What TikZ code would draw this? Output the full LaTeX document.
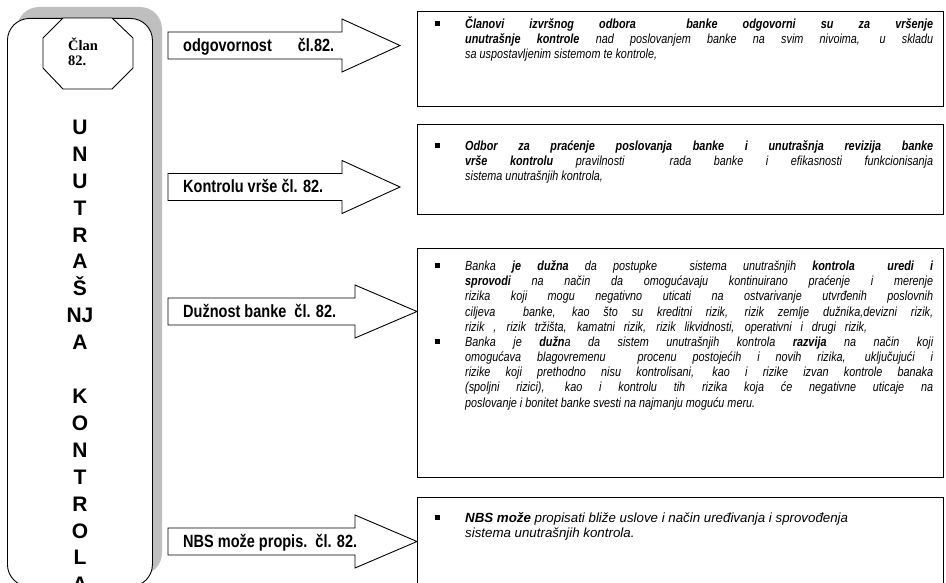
\documentclass[tikz,border=0pt]{standalone}
\usepackage{fontspec}
\setmainfont{Liberation Sans}
\newfontfamily\narrowfont[FakeStretch=0.82]{Liberation Sans}
\newfontfamily\serifbold{Liberation Serif}
\tolerance=10000
\hbadness=10000

% bullet item with hanging indent (line spacing set here, inside the text box)
\newcommand\bul{\par\baselineskip=15.2pt\noindent\hangindent=30pt\hangafter=1%
  \makebox[30pt][l]{\rule{0pt}{12pt}\rule[2.5pt]{4.5pt}{4.5pt}}\ignorespaces}

\tikzset{
  txtbox/.style={draw=black, line width=0.9pt, fill=white, anchor=north west, inner sep=0pt},
  blockarrow/.style={draw=black, line width=0.9pt, fill=white, line join=miter},
  arrowlabel/.style={anchor=base west, inner sep=0pt,
    font=\narrowfont\bfseries\fontsize{17.7}{20}\selectfont},
  bodytext/.style={anchor=north west, inner sep=0pt, text width=498pt, align=justify,
    font=\narrowfont\itshape\fontsize{13.2}{15.2}\selectfont},
  widetext/.style={bodytext, font=\itshape\fontsize{13.3}{15.2}\selectfont},
  letter/.style={anchor=base, inner sep=0pt, font=\bfseries\fontsize{21}{25}\selectfont},
}

% block arrow: label node name, centre y, head start x, tip x, label
\newcommand\blockarrow[5]{%
  \draw[blockarrow] (168,#2-13.5) -- (#3,#2-13.5) -- (#3,#2-26.5) -- (#4,#2)
    -- (#3,#2+26.5) -- (#3,#2+13.5) -- (168,#2+13.5) -- cycle;
  \node[arrowlabel] (#1) at (183,#2+6) {#5};}

\begin{document}
\begin{tikzpicture}[x=1pt,y=-1pt]
\useasboundingbox (0,0) rectangle (946,583);

% left panel with its grey shadow
\fill[gray!50, rounded corners=22pt] (17,7) rectangle (162,575);
\node[draw, line width=0.9pt, fill=white, rounded corners=22pt, anchor=north west,
  inner sep=0pt, minimum width=145pt, minimum height=568pt] (panel) at (7,18) {};

% octagon with the article number
\draw[line width=0.9pt, fill=white] (63,18) -- (112,18) -- (133,38) -- (133,68)
  -- (112,89) -- (63,89) -- (43,68) -- (43,38) -- cycle;
\node[anchor=north west, inner sep=0pt, text width=50pt, align=left,
  font=\serifbold\bfseries\fontsize{14.5}{15}\selectfont] (clan) at (68,37)
  {\baselineskip=15pt\rule{0pt}{13pt}Član\\82.\par};

% vertical title
\foreach \ch [count=\i from 0] in {U,N,U,T,R,A,Š,NJ,A}
  \node[letter] (v\i) at (80,134.5+26.9*\i) {\ch};
\foreach \ch [count=\i from 10] in {K,O,N,T,R,O,L,A}
  \node[letter] (v\i) at (80,134.5+26.9*\i) {\ch};

% text boxes
\node[txtbox, minimum width=526pt, minimum height=95pt] (box1) at (417,11) {};
\node[txtbox, minimum width=526pt, minimum height=90pt] (box2) at (417,124) {};
\node[txtbox, minimum width=526pt, minimum height=229pt] (box3) at (417,248) {};
\node[txtbox, minimum width=526pt, minimum height=100pt] (box4) at (417,497) {};

% block arrows
\blockarrow{a1}{45.5}{342}{400}{odgovornost\hspace{26pt}čl.82.}
\blockarrow{a2}{187}{342}{400}{Kontrolu vrše čl. 82.}
\blockarrow{a3}{311.5}{355}{417}{Dužnost banke\ \ čl. 82.}
\blockarrow{a4}{541.5}{355}{417}{NBS može propis.\ \ čl. 82.}

% box contents
\node[bodytext] (t1) at (435,13) {%
\bul\textbf{Članovi izvršnog odbora\ \ banke odgovorni su za vršenje}\linebreak
\textbf{unutrašnje kontrole} nad poslovanjem banke na svim nivoima, u skladu\linebreak
sa uspostavljenim sistemom te kontrole,\par};

\node[bodytext] (t2) at (435,135) {%
\bul\textbf{Odbor za praćenje poslovanja banke i unutrašnja revizija banke}\linebreak
\textbf{vrše kontrolu} pravilnosti\ \ rada banke i efikasnosti funkcionisanja\linebreak
sistema unutrašnjih kontrola,\par};

\node[bodytext] (t3) at (435,255) {%
\bul Banka \textbf{je dužna} da postupke\ \ sistema unutrašnjih \textbf{kontrola\ \ uredi i}\linebreak
\textbf{sprovodi} na način da omogućavaju kontinuirano praćenje i merenje\linebreak
rizika koji mogu negativno uticati na ostvarivanje utvrđenih poslovnih\linebreak
ciljeva\ \ banke, kao što su kreditni rizik, rizik zemlje dužnika,devizni rizik,\linebreak
\makebox[402pt][s]{rizik , rizik tržišta, kamatni rizik, rizik likvidnosti, operativni i drugi rizik,}
\bul Banka je \textbf{dužn}a da sistem unutrašnjih kontrola \textbf{razvija} na način koji\linebreak
omogućava blagovremenu\ \ procenu postojećih i novih rizika, uključujući i\linebreak
rizike koji prethodno nisu kontrolisani, kao i rizike izvan kontrole banaka\linebreak
(spoljni rizici), kao i kontrolu tih rizika koja će negativne uticaje na\linebreak
poslovanje i bonitet banke svesti na najmanju moguću meru.\par};

\node[widetext] (t4) at (435,507) {%
\bul\textbf{NBS može} propisati bliže uslove i način uređivanja i sprovođenja\newline
sistema unutrašnjih kontrola.\par};
\end{tikzpicture}
\end{document}
